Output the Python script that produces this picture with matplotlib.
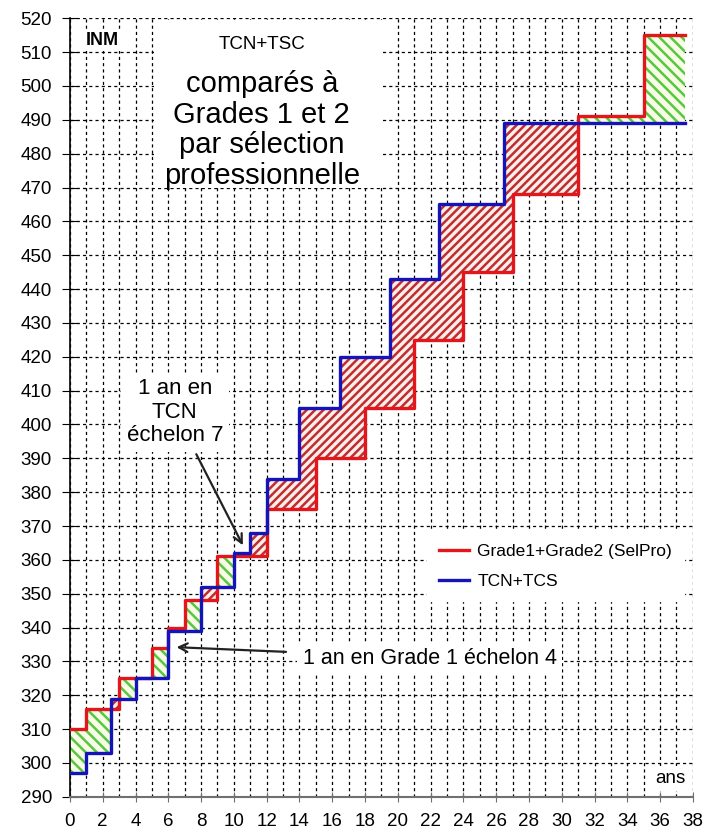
import matplotlib.pyplot as plt
from matplotlib.patches import Rectangle
from matplotlib.ticker import MultipleLocator

plt.rcParams['font.family'] = ['Liberation Sans', 'DejaVu Sans']
plt.rcParams['hatch.linewidth'] = 1.8

# carrière TCN+TCS (années, INM)
ans_tcn = [0, 1, 2.5, 4, 6, 8, 10, 11, 12, 14, 16.5, 19.5, 22.5, 26.5, 37.5]
inm_tcn = [297, 303, 319, 325, 339, 352, 362, 368, 384, 405, 420, 443, 465, 489, 489]

# carrière Grade 1 + Grade 2 par sélection professionnelle
ans_selpro = [0, 1, 3, 5, 6, 7, 9, 12, 15, 18, 21, 24, 27, 31, 35, 37.5]
inm_selpro = [310, 316, 325, 334, 340, 348, 361, 375, 390, 405, 425, 445, 468, 491, 515, 515]

x_ticks = list(range(0, 39, 2))
y_ticks = list(range(290, 521, 10))


def niveau(xs, ys, t):
    v = ys[0]
    for a, y in zip(xs, ys):
        if a <= t:
            v = y
    return v


fig = plt.figure(figsize=(7.21, 8.30), dpi=100)
ax = fig.add_axes([0.097, 0.040, 0.864, 0.938])

# zones hachurées : vert si SelPro au-dessus, rouge si TCN au-dessus
bornes = sorted(set(ans_tcn) | set(ans_selpro))
for a, b in zip(bornes[:-1], bornes[1:]):
    r = niveau(ans_selpro, inm_selpro, a)
    t = niveau(ans_tcn, inm_tcn, a)
    if r > t:
        ax.fill_between([a, b], t, r, facecolor='#f8fbe6', edgecolor='#55c840',
                        hatch='\\\\\\', linewidth=0, zorder=2)
    elif t > r:
        ax.fill_between([a, b], r, t, facecolor='#fdeeec', edgecolor='#bf2d2d',
                        hatch='////', linewidth=0, zorder=2)

ax.step(ans_selpro, inm_selpro, where='post', color='#e3161b', lw=2.4, zorder=4,
        label='Grade1+Grade2 (SelPro)')
ax.step(ans_tcn, inm_tcn, where='post', color='#1414b8', lw=2.4, zorder=5,
        label='TCN+TCS')

ax.set_xlim(0, 38)
ax.set_ylim(290, 520)
ax.set_xticks(x_ticks)
ax.set_yticks(y_ticks)
ax.xaxis.set_minor_locator(MultipleLocator(1))

ax.set_axisbelow(True)
ax.grid(True, which='both', axis='x', color='black', lw=0.9, ls=(0, (2.5, 2.5)))
ax.grid(True, which='major', axis='y', color='black', lw=0.9, ls=(0, (2.5, 2.5)))

ax.spines['top'].set_visible(False)
ax.spines['right'].set_visible(False)
ax.spines['left'].set_color('black')
ax.spines['left'].set_linewidth(1.2)
ax.spines['bottom'].set_color('#707070')
ax.spines['bottom'].set_linewidth(1.5)

ax.tick_params(axis='x', which='major', direction='inout', length=7, color='#707070',
               labelsize=13.5, pad=8)
ax.tick_params(axis='x', which='minor', length=0)
ax.tick_params(axis='y', direction='inout', length=12, color='black',
               labelsize=13.5, pad=7)

# cadre blanc du titre
ax.add_patch(Rectangle((5.1, 470), 14.0, 49.5, facecolor='white', edgecolor='none', zorder=1))
ax.text(11.7, 512.2, 'TCN+TSC', ha='center', va='center', fontsize=13.5, zorder=6)
ax.text(11.7, 487.0, 'comparés à\nGrades 1 et 2\npar sélection\nprofessionnelle',
        ha='center', va='center', fontsize=21, linespacing=1.12, zorder=6)
ax.text(2.0, 513.5, 'INM', ha='center', va='center', fontsize=13, fontweight='bold',
        bbox=dict(facecolor='white', edgecolor='none', pad=2), zorder=6)

ax.text(36.65, 295.5, 'ans', ha='center', va='center', fontsize=13.5,
        bbox=dict(facecolor='white', edgecolor='none', pad=3), zorder=6)

# annotations
ax.annotate('1 an en\nTCN\néchelon 7', xy=(10.55, 364.3), xytext=(6.4, 403.6),
            ha='center', va='center', fontsize=16, linespacing=1.15,
            bbox=dict(facecolor='white', edgecolor='none', pad=4),
            arrowprops=dict(arrowstyle='->', color='#222222', lw=1.6,
                            shrinkA=2, shrinkB=0), zorder=6)
ax.annotate('1 an en Grade 1 échelon 4', xy=(6.5, 334.2), xytext=(14.2, 331.0),
            ha='left', va='center', fontsize=15.5,
            bbox=dict(facecolor='white', edgecolor='none', pad=4),
            arrowprops=dict(arrowstyle='->', color='#222222', lw=1.6,
                            shrinkA=8, shrinkB=0), zorder=6)

leg = ax.legend(loc='upper right', bbox_to_anchor=(1.0, 0.352), fontsize=12.5,
                frameon=True, fancybox=False, framealpha=1, edgecolor='white',
                handlelength=1.7, handletextpad=0.5, borderpad=0.7, labelspacing=0.85)
leg.set_zorder(7)

fig.savefig('out.png', dpi=100)
